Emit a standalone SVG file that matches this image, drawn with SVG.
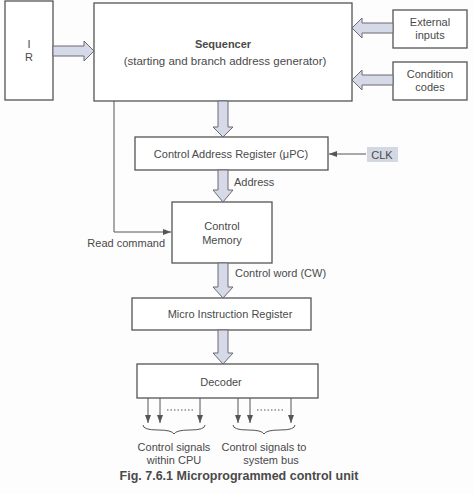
<svg xmlns="http://www.w3.org/2000/svg" width="474" height="493" viewBox="0 0 474 493">
<style>
.box{fill:#fff;stroke:#555;stroke-width:1.3}
.blk{fill:#d6d9e8;stroke:#6a6a72;stroke-width:1}
.ln{fill:none;stroke:#555;stroke-width:1}
text{font-family:"Liberation Sans",Arial,sans-serif;font-size:11px;fill:#4a4a4a}
.c{text-anchor:middle}
.b{font-weight:bold}
</style>
<defs>
<marker id="ah" markerWidth="8" markerHeight="6" refX="8" refY="3" orient="auto" markerUnits="userSpaceOnUse">
<path d="M0,0 L8,3 L0,6 Z" fill="#555"/>
</marker>
</defs>
<rect width="474" height="493" fill="#fdfdfd"/>

<g id="ir"><rect class="box" x="5" y="1" width="48" height="99"/>
<text class="c" x="29" y="48">I</text><text class="c" x="29" y="61">R</text></g>

<g id="sequencer"><rect class="box" x="94" y="3" width="258" height="98"/>
<text class="c b" x="223" y="48">Sequencer</text>
<text class="c" x="225" y="65" style="font-size:11.5px">(starting and branch address generator)</text></g>

<g id="external"><rect class="box" x="393" y="10" width="74" height="38"/>
<text class="c" x="430" y="26">External</text><text class="c" x="430" y="39">inputs</text></g>

<g id="condition"><rect class="box" x="393" y="62" width="74" height="38"/>
<text class="c" x="430" y="78">Condition</text><text class="c" x="430" y="91">codes</text></g>

<g id="car"><rect class="box" x="135" y="137" width="193" height="33"/>
<text class="c" x="231" y="158">Control Address Register (μPC)</text></g>

<g id="clk"><rect x="367" y="147" width="31" height="15" fill="#d4d7e4"/>
<text class="c" x="382" y="159">CLK</text></g>

<g id="memory"><rect class="box" x="172" y="202" width="100" height="61"/>
<text class="c" x="222" y="230">Control</text><text class="c" x="222" y="244">Memory</text></g>

<g id="mir"><rect class="box" x="132" y="298" width="179" height="32"/>
<text class="c" x="230" y="318">Micro Instruction Register</text></g>

<g id="decoder"><rect class="box" x="137" y="364" width="181" height="34"/>
<text class="c" x="221" y="386">Decoder</text></g>

<g id="connectors">
<path class="blk" d="M53,46 H84 V41 L94,51 L84,61 V56 H53 Z"/>
<path class="blk" d="M393,23 H362 V18 L352,28 L362,38 V33 H393 Z"/>
<path class="blk" d="M393,75 H362 V70 L352,80 L362,90 V85 H393 Z"/>
<path class="blk" d="M218,101 V127 H213 L223,137 L233,127 H228 V101 Z"/>
<path class="blk" d="M218,170 V190 H213 L223,202 L233,190 H228 V170 Z"/>
<path class="blk" d="M218,263 V287 H213 L223,298 L233,287 H228 V263 Z"/>
<path class="blk" d="M218,330 V353 H213 L223,364 L233,353 H228 V330 Z"/>
<line class="ln" x1="366" y1="154" x2="329" y2="154" marker-end="url(#ah)"/>
<path class="ln" d="M114,101 V232 H171" marker-end="url(#ah)"/>
<line class="ln" x1="148" y1="398" x2="148" y2="423" marker-end="url(#ah)"/>
<line class="ln" x1="160" y1="398" x2="160" y2="423" marker-end="url(#ah)"/>
<line class="ln" x1="200" y1="398" x2="200" y2="423" marker-end="url(#ah)"/>
<line class="ln" x1="238" y1="398" x2="238" y2="423" marker-end="url(#ah)"/>
<line class="ln" x1="250" y1="398" x2="250" y2="423" marker-end="url(#ah)"/>
<line class="ln" x1="291" y1="398" x2="291" y2="423" marker-end="url(#ah)"/>
<line class="ln" x1="167" y1="410" x2="193" y2="410" stroke-dasharray="1.5,2"/>
<line class="ln" x1="257" y1="410" x2="283" y2="410" stroke-dasharray="1.5,2"/>
<path class="ln" d="M143,425 Q143,430 158,430 Q172,430 174,434 Q176,430 190,430 Q205,430 205,425"/>
<path class="ln" d="M233,425 Q233,430 248,430 Q262,430 264,434 Q266,430 280,430 Q295,430 295,425"/>
</g>
<text x="234" y="186">Address</text>
<text x="165" y="247" text-anchor="end">Read command</text>
<text x="235" y="277">Control word (CW)</text>
<text class="c" x="174" y="451">Control signals</text>
<text class="c" x="174" y="464">within CPU</text>
<text class="c" x="264" y="451">Control signals to</text>
<text class="c" x="271" y="464">system bus</text>
<text class="c b" x="239" y="480" style="font-size:12.5px">Fig. 7.6.1 Microprogrammed control unit</text>
</svg>
